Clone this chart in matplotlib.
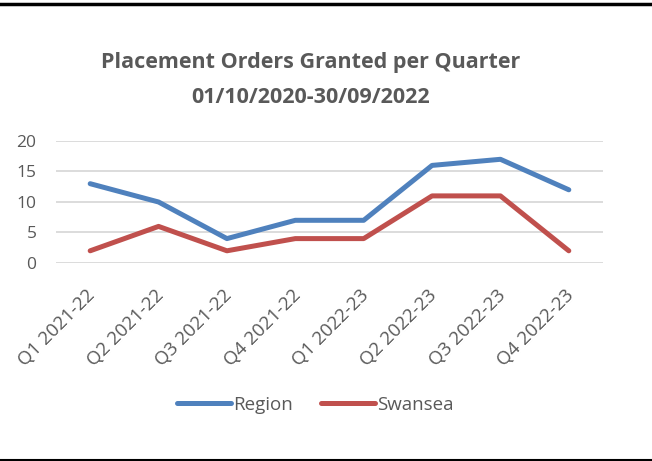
import matplotlib
matplotlib.use("Agg")
import matplotlib.pyplot as plt
from matplotlib.lines import Line2D
from matplotlib.transforms import ScaledTranslation

quarters = ["Q1 2021-22", "Q2 2021-22", "Q3 2021-22", "Q4 2021-22",
            "Q1 2022-23", "Q2 2022-23", "Q3 2022-23", "Q4 2022-23"]
region = [13, 10, 4, 7, 7, 16, 17, 12]
swansea = [2, 6, 2, 4, 4, 11, 11, 2]
yticks = [0, 5, 10, 15, 20]

plt.rcParams["font.family"] = ["Open Sans", "DejaVu Sans"]
grey = "#595959"

W, H = 652, 461
fig = plt.figure(figsize=(W / 100, H / 100), dpi=100)
ax = fig.add_axes([56 / W, 1 - 263 / H, (603 - 56) / W, (263 - 141) / H])

x = range(len(quarters))
ax.plot(x, region, color="#4F81BD", lw=3.6, solid_capstyle="round",
        solid_joinstyle="round", label="Region")
ax.plot(x, swansea, color="#C0504D", lw=3.6, solid_capstyle="round",
        solid_joinstyle="round", label="Swansea")

ax.set_xlim(-0.5, len(quarters) - 0.5)
ax.set_ylim(0, 20)
ax.set_yticks(yticks)
ax.set_yticklabels([str(v) for v in yticks], fontsize=12.5, color=grey)
ax.set_xticks(list(x))
ax.set_xticklabels(quarters, rotation=45, ha="right", rotation_mode="anchor",
                   fontsize=13.5, color=grey)
ax.tick_params(length=0)
ax.tick_params(axis="x", pad=17)
ax.tick_params(axis="y", pad=14)
# nudge rotated labels slightly left so they end just past the point
for lbl in ax.get_xticklabels():
    lbl.set_transform(lbl.get_transform() + ScaledTranslation(-4 / 100, 0, fig.dpi_scale_trans))
ax.grid(axis="y", color="#D9D9D9", lw=1.3)
ax.set_axisbelow(True)
for s in ax.spines.values():
    s.set_visible(False)

fig.text(311 / W, 1 - 62 / H, "Placement Orders Granted per Quarter",
         ha="center", va="center", fontsize=15.5, fontweight="bold", color=grey)
fig.text(311 / W, 1 - 97 / H, "01/10/2020-30/09/2022",
         ha="center", va="center", fontsize=15.5, fontweight="bold", color=grey)

fig.legend(loc="center", bbox_to_anchor=(315 / W, 1 - 405 / H), ncol=2,
           frameon=False, fontsize=13.5, labelcolor=grey, handlelength=2.9,
           handletextpad=0.1, columnspacing=1.5)

fig.add_artist(Line2D([0, 1], [1 - 4 / H, 1 - 4 / H], color="black", lw=2.5,
                      transform=fig.transFigure))
fig.add_artist(Line2D([0, 1], [1 - 459.5 / H, 1 - 459.5 / H], color="black",
                      lw=1.5, transform=fig.transFigure))

fig.savefig("out.png", dpi=100)
